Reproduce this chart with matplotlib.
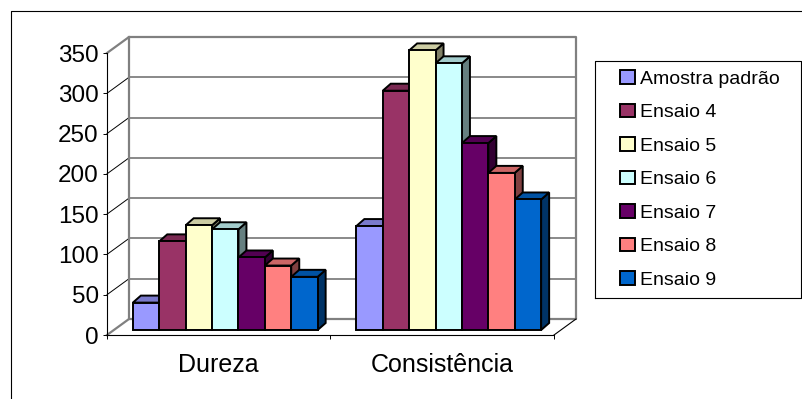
import numpy as np
import matplotlib.pyplot as plt
from matplotlib.patches import Polygon, Patch
from matplotlib.lines import Line2D

plt.rcParams['font.family'] = ['Liberation Sans', 'DejaVu Sans']

###############################################################################
# Dados
###############################################################################
categorias = ['Dureza', 'Consistência']
series = ['Amostra padrão', 'Ensaio 4', 'Ensaio 5', 'Ensaio 6',
          'Ensaio 7', 'Ensaio 8', 'Ensaio 9']
dureza = [34, 110, 130, 125, 90, 80, 66]
consistencia = [129, 297, 347, 331, 232, 195, 162]
cores = ['#9999FF', '#993366', '#FFFFCC', '#CCFFFF',
         '#660066', '#FF8080', '#0066CC']
marcas_y = [0, 50, 100, 150, 200, 250, 300, 350]

###############################################################################
# Geometria (em pixels da figura)
###############################################################################
W, H = 802, 399
fig = plt.figure(figsize=(W / 100, H / 100), dpi=100)

sx = 447 / 2.0          # pixels por categoria
sy = 282 / 350.0        # pixels por unidade
dx_par, dy_par = 22 / sx, 16 / sy      # profundidade da parede
dx_col, dy_col = 8 / sx, 7 / sy        # profundidade de cada coluna
dx_pl, dy_pl = 6.5 / sx, 5 / sy        # plano das colunas
larg = 26.4 / sx

x0, y0 = 107, 335
ax = fig.add_axes([x0 / W, 1 - y0 / H, (447 + 22) / W, (282 + 16) / H])
ax.set_xlim(0, 2 + dx_par)
ax.set_ylim(0, 350 + dy_par)
ax.patch.set_visible(False)

cinza = '#808080'
topo = max(marcas_y)

# parede do fundo e grade
for v in marcas_y[1:-1]:
    ax.plot([dx_par, 2 + dx_par], [v + dy_par] * 2, color=cinza, lw=1.3,
            zorder=1, clip_on=False)
    ax.plot([0, dx_par], [v, v + dy_par], color='black', lw=0.7,
            zorder=1, clip_on=False)
ax.plot([0, dx_par, 2 + dx_par, 2 + dx_par, dx_par, dx_par],
        [topo, topo + dy_par, topo + dy_par, dy_par, dy_par, topo + dy_par],
        color=cinza, lw=1.6, zorder=1, clip_on=False)
# piso
ax.plot([0, dx_par], [0, dy_par], color=cinza, lw=1.6, zorder=1, clip_on=False)
ax.plot([2, 2 + dx_par], [0, dy_par], color='black', lw=0.8, zorder=1,
        clip_on=False)

# colunas
for c, valores in enumerate([dureza, consistencia]):
    for i, v in enumerate(valores):
        xl = c + 0.5 - 3.5 * larg + i * larg + dx_pl
        yb = dy_pl
        cor = np.array(plt.matplotlib.colors.to_rgb(cores[i]))
        z = 3 + 0.1 * i
        lado = Polygon([(xl + larg, yb), (xl + larg + dx_col, yb + dy_col),
                        (xl + larg + dx_col, yb + v + dy_col), (xl + larg, yb + v)],
                       closed=True, facecolor=cor * 0.5, edgecolor='black',
                       lw=1.4, zorder=z)
        cima = Polygon([(xl, yb + v), (xl + dx_col, yb + v + dy_col),
                        (xl + larg + dx_col, yb + v + dy_col), (xl + larg, yb + v)],
                       closed=True, facecolor=cor * 0.8, edgecolor='black',
                       lw=1.4, zorder=z)
        ax.add_patch(lado)
        ax.add_patch(cima)
        ax.bar(xl, v, width=larg, bottom=yb, align='edge', color=cores[i],
               edgecolor='black', lw=1.4, zorder=z + 0.05)

# eixos
for s in ['top', 'right']:
    ax.spines[s].set_visible(False)
ax.spines['left'].set_bounds(0, topo)
ax.spines['bottom'].set_bounds(0, 2)
ax.spines['left'].set_linewidth(0.8)
ax.spines['bottom'].set_linewidth(0.8)
ax.set_yticks(marcas_y)
ax.tick_params(axis='y', direction='out', length=3, width=0.7, pad=3,
               labelsize=17.5)
ax.set_xticks([0, 1, 2])
ax.set_xticklabels([])
ax.set_xticks([0.5, 1.5], minor=True)
ax.set_xticklabels(categorias, minor=True)
ax.tick_params(axis='x', which='major', direction='out', length=3, width=0.7)
ax.tick_params(axis='x', which='minor', length=0, pad=13, labelsize=18)

# legenda
alcas = [Patch(facecolor=cores[i], edgecolor='black', lw=1.4, label=s)
         for i, s in enumerate(series)]
fig.legend(handles=alcas, loc='upper left', frameon=False, fontsize=14,
           bbox_to_anchor=(620 / W, 1 - 70 / H), borderpad=0, borderaxespad=0,
           handlelength=0.75, handleheight=0.7, handletextpad=0.3,
           labelspacing=0.82)
fig.add_artist(Line2D([595 / W, 595 / W, 801 / W, 801 / W, 595 / W],
                      [1 - 298 / H, 1 - 61 / H, 1 - 61 / H, 1 - 298 / H, 1 - 298 / H],
                      transform=fig.transFigure, color='black', lw=0.8))

# moldura do grafico
fig.add_artist(Line2D([11 / W, 11 / W, 1], [0, 1 - 11 / H, 1 - 11 / H],
                      transform=fig.transFigure, color='black', lw=0.8))

fig.savefig('out.png', dpi=100)
